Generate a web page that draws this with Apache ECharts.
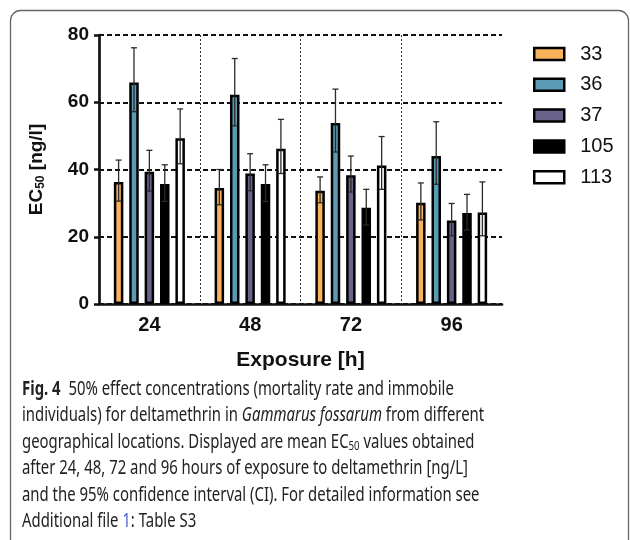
<!DOCTYPE html>
<html>
<head>
<meta charset="utf-8">
<script src="https://cdn.jsdelivr.net/npm/echarts@6/dist/echarts.min.js"></script>
<style>
html,body{margin:0;padding:0;background:#fff;}
#chart{width:630px;height:540px;}
</style>
</head>
<body>
<div id="chart"></div>
<script>
// ---- data ----
var categories = ['24', '48', '72', '96'];
var seriesNames = ['33', '36', '37', '105', '113'];
var v33  = [36.3, 34.5, 33.7, 30.1];
var v36  = [65.9, 62.2, 53.8, 44.0];
var v37  = [39.3, 38.8, 38.3, 24.8];
var v105 = [35.7, 35.7, 28.6, 27.1];
var v113 = [49.3, 46.2, 41.2, 27.2];
var lo33  = [30.6, 29.5, 30.1, 25.0], hi33  = [42.8, 40.0, 37.8, 36.0];
var lo36  = [57.2, 53.0, 45.2, 35.6], hi36  = [76.2, 73.0, 63.9, 54.2];
var lo37  = [33.6, 33.7, 33.3, 20.3], hi37  = [45.7, 44.7, 44.0, 29.9];
var lo105 = [30.5, 30.5, 23.5, 22.0], hi105 = [41.4, 41.4, 34.1, 32.6];
var lo113 = [41.7, 38.8, 34.1, 20.3], hi113 = [58.0, 54.9, 49.8, 36.3];
var yTicks = [0, 20, 40, 60, 80];

var values = [v33, v36, v37, v105, v113];
var lows = [lo33, lo36, lo37, lo105, lo113];
var highs = [hi33, hi36, hi37, hi105, hi113];
var colors = ['#F9B35A', '#5A9AB5', '#696289', '#000000', '#FFFFFF'];

var FONT = '"Liberation Sans", Arial, Helvetica, sans-serif';
var BAR_W = 9.5, GAP = 0.62;
var STEP = BAR_W * (1 + GAP);
var n = seriesNames.length;

var series = [];
seriesNames.forEach(function (name, i) {
  series.push({
    name: name, type: 'bar', data: values[i],
    barWidth: BAR_W, barGap: (GAP * 100) + '%',
    itemStyle: { color: colors[i], borderColor: '#000', borderWidth: 2.5 },
    z: 2
  });
});
seriesNames.forEach(function (name, i) {
  var d = categories.map(function (c, k) { return [k, lows[i][k], highs[i][k]]; });
  var off = (i - (n - 1) / 2) * STEP;
  series.push({
    type: 'custom', name: name + '_err', data: d, z: 5, silent: true,
    encode: { x: 0, y: [1, 2] },
    renderItem: function (params, api) {
      var x = api.coord([api.value(0), 0])[0] + off;
      var yl = api.coord([api.value(0), api.value(1)])[1];
      var yh = api.coord([api.value(0), api.value(2)])[1];
      var cw = 3;
      var st = { stroke: '#2a2a2a', lineWidth: 1.3 };
      return { type: 'group', children: [
        { type: 'line', shape: { x1: x, y1: yl, x2: x, y2: yh }, style: st },
        { type: 'line', shape: { x1: x - cw, y1: yh, x2: x + cw, y2: yh }, style: st },
        { type: 'line', shape: { x1: x - cw, y1: yl, x2: x + cw, y2: yl }, style: st }
      ]};
    }
  });
});

// caption
var capFont = '"Noto Sans"';
var capSize = 20;
var cv = document.createElement('canvas').getContext('2d');
cv.font = capSize + 'px ' + capFont;
var refW = cv.measureText('individuals) for deltamethrin in Gammarus fossarum from different').width;
var sx = 470 / refW;
var capLines = [
  '{b|Fig. 4}  50% effect concentrations (mortality rate and immobile',
  'individuals) for deltamethrin in {i|Gammarus fossarum} from different',
  'geographical locations. Displayed are mean EC{s|50} values obtained',
  'after 24, 48, 72 and 96 hours of exposure to deltamethrin [ng/L]',
  'and the 95% confidence interval (CI). For detailed information see',
  'Additional file {l|1}: Table S3'
];
var capRich = {
  b: { fontWeight: 'bold', fontSize: capSize, fontFamily: capFont, fill: '#222' },
  i: { fontStyle: 'italic', fontSize: capSize, fontFamily: capFont, fill: '#222' },
  s: { fontSize: 13, fontFamily: capFont, fill: '#222', padding: [9, 0, 0, 0] },
  l: { fontSize: capSize, fontFamily: capFont, fill: '#4a5fd6' }
};
var graphics = [{
  type: 'rect', shape: { x: 10.5, y: 10.5, width: 618, height: 540, r: 10 },
  style: { fill: 'none', stroke: '#666', lineWidth: 1.3 }, silent: true
}];
capLines.forEach(function (t, k) {
  graphics.push({
    type: 'text', x: 22, y: 389 + k * 26.5, scaleX: sx,
    style: { text: t, rich: capRich, fontSize: capSize, fontFamily: capFont, fill: '#222', verticalAlign: 'middle', align: 'left' }
  });
});

var chart = echarts.init(document.getElementById('chart'), null, { renderer: 'canvas' });
chart.setOption({
  animation: false,
  backgroundColor: '#fff',
  textStyle: { fontFamily: FONT },
  grid: { left: 99, right: 128, top: 35, height: 269, containLabel: false },
  legend: {
    data: seriesNames, orient: 'vertical', left: 528, top: 39,
    itemWidth: 30, itemHeight: 12, itemGap: 10.8, icon: 'rect',
    itemStyle: { borderColor: '#000', borderWidth: 2.5 },
    textStyle: { fontSize: 20, fontFamily: FONT, color: '#111', lineHeight: 20, padding: [0, 0, 0, 11] }
  },
  xAxis: {
    type: 'category', data: categories,
    name: 'Exposure [h]', nameLocation: 'middle', nameGap: 46,
    nameTextStyle: { fontSize: 21, fontWeight: 'bold', fontFamily: FONT, color: '#111' },
    axisLine: { lineStyle: { color: '#111', width: 2.7 } },
    axisTick: { alignWithLabel: true, length: 6, lineStyle: { width: 2.5, color: '#111' } },
    axisLabel: { fontSize: 20, fontWeight: 'bold', fontFamily: FONT, color: '#111', margin: 11 },
    splitLine: { show: true, showMinLine: false, showMaxLine: false, lineStyle: { type: [2, 2], color: '#333', width: 1 } }
  },
  yAxis: {
    type: 'value', min: yTicks[0], max: yTicks[yTicks.length - 1], interval: 20,
    name: '{a|EC}{s|50}{a| [ng/l]}', nameLocation: 'middle', nameGap: 52,
    nameTextStyle: { rich: {
      a: { fontSize: 19, fontWeight: 'bold', fontFamily: FONT, color: '#111' },
      s: { fontSize: 12, fontWeight: 'bold', fontFamily: FONT, color: '#111', padding: [8, 0, 0, 0] }
    } },
    axisLine: { show: true, lineStyle: { color: '#111', width: 2.7 } },
    axisTick: { show: true, length: 5, lineStyle: { width: 2.5, color: '#111' } },
    axisLabel: { fontSize: 19, fontWeight: 'bold', fontFamily: FONT, color: '#111', margin: 10 },
    splitLine: { show: true, lineStyle: { type: [5, 3], color: '#111', width: 2.2 } }
  },
  graphic: graphics,
  series: series
});
</script>
</body>
</html>
